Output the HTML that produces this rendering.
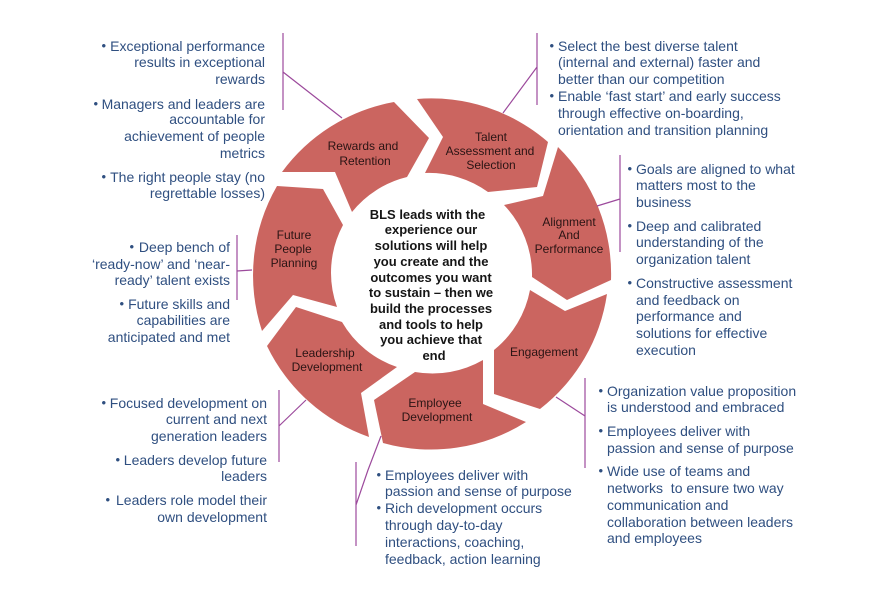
<!DOCTYPE html>
<html><head><meta charset="utf-8"><style>
html,body{margin:0;padding:0;background:#fff}
svg{display:block;font-family:"Liberation Sans",Arial,sans-serif}
.b text{font-size:14px;fill:#2f4f80}
.e text{text-anchor:end}
.n text{font-size:12px;fill:#2a1414;text-anchor:middle}
.c text{font-size:13px;font-weight:bold;fill:#151515;text-anchor:middle}
.d text{font-size:13px;fill:#2f4f80}
</style></head><body>
<svg width="888" height="600" viewBox="0 0 888 600" xmlns="http://www.w3.org/2000/svg">
<g fill="#cb6560">
<path d="M282 172A178 178 0 0 1 394 102L429 138L407 177A101 101 0 0 0 352 212L335 172Z"/>
<path d="M417 99A178 178 0 0 1 548 142L537 187L488 192A101 101 0 0 0 425 173L443 137Z"/>
<path d="M558 147A178 178 0 0 1 611 280L567 300L532 277A101 101 0 0 0 504 205L543 196Z"/>
<path d="M530 290L565 311L607 294A178 178 0 0 1 540 409L494 394L494 350A101 101 0 0 0 530 290Z"/>
<path d="M415 372A101 101 0 0 0 483 360L483 404L526 422A178 178 0 0 1 383 443L374 400Z"/>
<path d="M296 307L342 322A101 101 0 0 0 397 367L361 393L369 437A178 178 0 0 1 267 346Z"/>
<path d="M277 186L323 189L343 225A101 101 0 0 0 337 307L293 295L262 331A178 178 0 0 1 277 186Z"/>
</g>
<g stroke="#9c4a9c" stroke-width="1.2" fill="none">
<path d="M283 33V110M283 72L342 118"/>
<path d="M537 33V105M537 67L503 113"/>
<path d="M620 155V252M620 199L597 206"/>
<path d="M237 235V300M237 271L252 270"/>
<path d="M279 390V462M279 426L306 400"/>
<path d="M356 462V546M356 505L368 470M368 470L381 436"/>
<path d="M585 378V468M585 416L556 397"/>
</g>
<g class="n">
<text x="363" y="150">Rewards and</text><text x="365" y="165">Retention</text>
<text x="491" y="141">Talent</text><text x="490" y="155">Assessment and</text><text x="491" y="169">Selection</text>
<text x="569" y="226">Alignment</text><text x="569" y="239">And</text><text x="569" y="253">Performance</text>
<text x="544" y="356">Engagement</text>
<text x="435" y="407">Employee</text><text x="437" y="421">Development</text>
<text x="325" y="357">Leadership</text><text x="327" y="371">Development</text>
<text x="294" y="239">Future</text><text x="293" y="253">People</text><text x="294" y="267">Planning</text>
</g>
<g class="c">
<text x="427.5" y="219">BLS leads with the</text>
<text x="431" y="234">experience our</text>
<text x="431" y="250">solutions will help</text>
<text x="431" y="266">you create and the</text>
<text x="431" y="282">outcomes you want</text>
<text x="431" y="297">to sustain – then we</text>
<text x="431" y="313">build the processes</text>
<text x="431" y="329">and tools to help</text>
<text x="431" y="344">you achieve that</text>
<text x="434" y="360">end</text>
</g>
<g class="b e">
<text x="265" y="51">Exceptional performance</text>
<text x="265" y="67">results in exceptional</text>
<text x="265" y="84">rewards</text>
<text x="265" y="109">Managers and leaders are</text>
<text x="265" y="124">accountable for</text>
<text x="265" y="141">achievement of people</text>
<text x="265" y="158">metrics</text>
<text x="265" y="182">The right people stay (no</text>
<text x="265" y="198">regrettable losses)</text>
<text x="230" y="252">Deep bench of</text>
<text x="230" y="269">‘ready-now’ and ‘near-</text>
<text x="230" y="285">ready’ talent exists</text>
<text x="230" y="309">Future skills and</text>
<text x="230" y="325">capabilities are</text>
<text x="230" y="342">anticipated and met</text>
<text x="267" y="408">Focused development on</text>
<text x="267" y="424">current and next</text>
<text x="267" y="441">generation leaders</text>
<text x="267" y="465">Leaders develop future</text>
<text x="267" y="481">leaders</text>
<text x="267" y="505">Leaders role model their</text>
<text x="267" y="522">own development</text>
</g>
<g class="b">
<text x="558" y="51">Select the best diverse talent</text>
<text x="558" y="67">(internal and external) faster and</text>
<text x="558" y="84">better than our competition</text>
<text x="558" y="101">Enable ‘fast start’ and early success</text>
<text x="558" y="118">through effective on-boarding,</text>
<text x="558" y="135">orientation and transition planning</text>
<text x="636" y="174">Goals are aligned to what</text>
<text x="636" y="190">matters most to the</text>
<text x="636" y="207">business</text>
<text x="636" y="231">Deep and calibrated</text>
<text x="636" y="247">understanding of the</text>
<text x="636" y="264">organization talent</text>
<text x="636" y="288">Constructive assessment</text>
<text x="636" y="305">and feedback on</text>
<text x="636" y="321">performance and</text>
<text x="636" y="338">solutions for effective</text>
<text x="636" y="355">execution</text>
<text x="607" y="396">Organization value proposition</text>
<text x="607" y="412">is understood and embraced</text>
<text x="607" y="436">Employees deliver with</text>
<text x="607" y="453">passion and sense of purpose</text>
<text x="607" y="476">Wide use of teams and</text>
<text x="607" y="493" xml:space="preserve">networks  to ensure two way</text>
<text x="607" y="510">communication and</text>
<text x="607" y="527">collaboration between leaders</text>
<text x="607" y="543">and employees</text>
<text x="385" y="480">Employees deliver with</text>
<text x="385" y="496">passion and sense of purpose</text>
<text x="385" y="513">Rich development occurs</text>
<text x="385" y="530">through day-to-day</text>
<text x="385" y="547">interactions, coaching,</text>
<text x="385" y="564">feedback, action learning</text>
</g>
<g class="d" transform="translate(0.5,0)">
<text x="101" y="50">•</text><text x="93" y="108">•</text><text x="101" y="181">•</text>
<text x="129" y="251">•</text><text x="119" y="308">•</text>
<text x="101" y="407">•</text><text x="115" y="464">•</text><text x="105" y="504">•</text>
<text x="549" y="50">•</text><text x="549" y="100">•</text>
<text x="627" y="173">•</text><text x="627" y="230">•</text><text x="627" y="287">•</text>
<text x="598" y="395">•</text><text x="598" y="435">•</text><text x="598" y="475">•</text>
<text x="376" y="479">•</text><text x="376" y="512">•</text>
</g>
</svg>
</body></html>
